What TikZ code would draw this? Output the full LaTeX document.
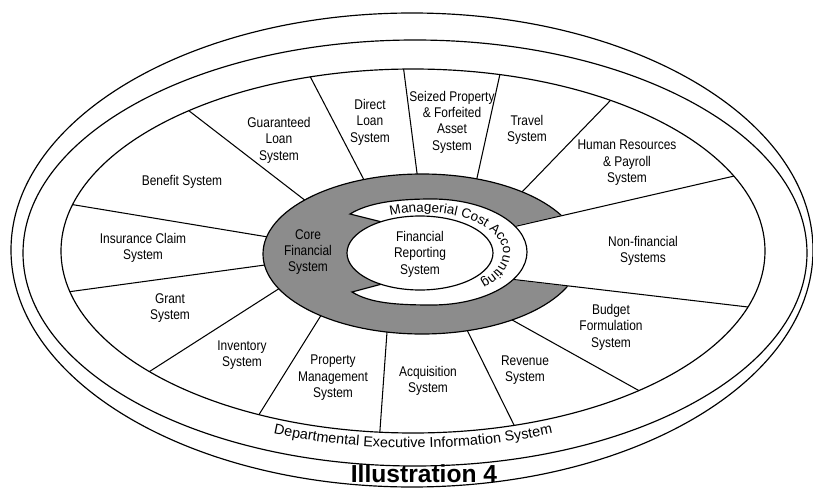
\documentclass[tikz,border=0pt]{standalone}
\usepackage{fontspec}
\setmainfont{Liberation Sans}[FakeStretch=0.85]
\newfontfamily\titlefont{Liberation Sans}
\usetikzlibrary{calc,decorations.text}

\tikzset{
  ring/.style={line width=1pt},
  spoke/.style={line width=0.9pt},
  lbl/.style={align=center, font=\fontsize{12}{14}\selectfont, inner sep=0pt},
}
% spoke from inner point #1 out through #2, clipped by the systems ellipse
\newcommand\spokeline[2]{\draw[spoke] ($#2!1.15!#1$) -- ($#1!1.35!#2$);}

\begin{document}
\begin{tikzpicture}[x=0.3mm, y=-0.3mm]
\useasboundingbox (0,0) rectangle (813,492);

% outer rings
\draw[ring] (412,250) ellipse[x radius=401, y radius=237];
\draw[ring] (415,253) ellipse[x radius=392, y radius=213];

% systems ring with spokes and core
\begin{scope}
\clip (413,251) ellipse[x radius=352, y radius=182];
\spokeline{(417,173)}{(404,72)}
\spokeline{(477,178)}{(498,83)}
\spokeline{(522,192)}{(608,103)}
\spokeline{(363,178)}{(313,82)}
\spokeline{(302,198)}{(197,117)}
\spokeline{(268,237)}{(87,207)}
\spokeline{(265,265)}{(82,290)}
\spokeline{(280,288)}{(155,368)}
\spokeline{(320,317)}{(260,413)}
\spokeline{(387,332)}{(380,430)}
\spokeline{(468,332)}{(515,427)}
\spokeline{(505,316)}{(645,394)}
\filldraw[ring, fill=black!45] (422,254) ellipse[x radius=159, y radius=80];
\fill[white] (505,228) -- (600,207) -- (600,290) -- (505,279) -- cycle;
\draw[spoke] ($(730,177)!1.05!(517,226)$) -- ($(517,226)!1.3!(730,177)$);
\draw[spoke] ($(748,307)!1.05!(518,280)$) -- ($(518,280)!1.3!(748,307)$);
\end{scope}
\draw[ring] (413,251) ellipse[x radius=352, y radius=182];

% managerial cost accounting band
\filldraw[ring, fill=white] (350,214) .. controls (368,203) and (395,199) .. (432,199)
  arc[start angle=-90, end angle=90, x radius=95, y radius=53]
  .. controls (395,305) and (370,303) .. (352,292) -- (382,284) -- (382,222) -- cycle;
\filldraw[ring, fill=white] (420,253) ellipse[x radius=73, y radius=37];

\path[decorate, decoration={text along path, text align=left,
    text={|\titlefont\fontsize{11.5}{14}\selectfont|Managerial Cost Accounting}}]
  (390.5,215.5) arc[start angle=-114, end angle=60, x radius=80, y radius=41];
\path[decorate, decoration={text along path, text align=center,
    text={|\titlefont\fontsize{12.3}{14}\selectfont|Departmental Executive Information System}}]
  (239.3,424.9) arc[start angle=118, end angle=62, x radius=370, y radius=197];

% labels
\node[lbl] (benefit) at (182,182) {Benefit System};
\node[lbl] (insurance) at (143,248) {Insurance Claim\\System};
\node[lbl] (grant) at (170,308) {Grant\\System};
\node[lbl] (inventory) at (242,355) {Inventory\\System};
\node[lbl] (property) at (333,378) {Property\\Management\\System};
\node[lbl] (acquisition) at (428,381) {Acquisition\\System};
\node[lbl] (revenue) at (525,370) {Revenue\\System};
\node[lbl] (budget) at (611,327) {Budget\\Formulation\\System};
\node[lbl] (nonfin) at (643,251) {Non-financial\\Systems};
\node[lbl] (hr) at (627,163) {Human Resources\\\& Payroll\\System};
\node[lbl] (travel) at (527,130) {Travel\\System};
\node[lbl] (seized) at (452,122) {Seized Property\\\& Forfeited\\Asset\\System};
\node[lbl] (direct) at (370,122) {Direct\\Loan\\System};
\node[lbl] (guaranteed) at (279,140) {Guaranteed\\Loan\\System};
\node[lbl] (core) at (308,252) {Core\\Financial\\System};
\node[lbl] (frs) at (420,254) {Financial\\Reporting\\System};
\node[font=\titlefont\bfseries\fontsize{21}{24}\selectfont, inner sep=0pt] (title) at (424,474) {Illustration 4};
\end{tikzpicture}
\end{document}
